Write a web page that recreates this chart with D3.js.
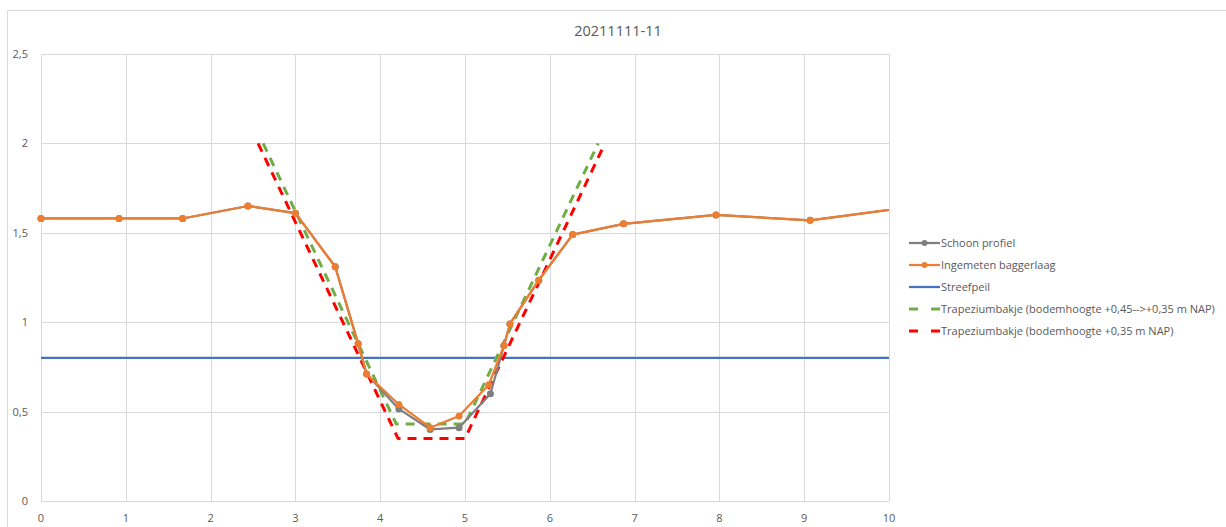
<!DOCTYPE html>
<html>
<head>
<meta charset="utf-8">
<script src="https://cdn.jsdelivr.net/npm/d3@7"></script>
<style>
  body { margin: 0; background: #fff; }
  svg { display: block; font-family: 'Open Sans', 'Noto Sans', sans-serif; }
  .grid line { stroke: #d9d9d9; stroke-width: 1; }
  .tick-label { fill: #595959; font-size: 11px; }
  .legend-label { fill: #595959; font-size: 11px; }
</style>
</head>
<body>
<div id="chart"></div>
<script>
// surveyed profile (Ingemeten baggerlaag)
const measuredX = [0, 0.92, 1.67, 2.44, 3.0, 3.47, 3.74, 3.84, 4.22, 4.59, 4.93, 5.28, 5.46, 5.53, 5.87, 6.27, 6.87, 7.96, 9.07, 10.6];
const measuredY = [1.58, 1.58, 1.58, 1.65, 1.61, 1.31, 0.88, 0.71, 0.54, 0.41, 0.475, 0.65, 0.87, 0.99, 1.235, 1.49, 1.55, 1.60, 1.57, 1.665];

// clean profile (Schoon profiel) - only differs in the bottom of the ditch
const cleanX = [0, 0.92, 1.67, 2.44, 3.0, 3.47, 3.74, 3.84, 4.22, 4.59, 4.93, 5.30, 5.46, 5.53, 5.87, 6.27, 6.87, 7.96, 9.07, 10.6];
const cleanY = [1.58, 1.58, 1.58, 1.65, 1.61, 1.31, 0.88, 0.71, 0.515, 0.40, 0.41, 0.60, 0.87, 0.99, 1.235, 1.49, 1.55, 1.60, 1.57, 1.665];

// target water level (Streefpeil)
const levelX = [0, 10];
const levelY = [0.8, 0.8];

// trapezium profiles
const trapGreenX = [2.62, 4.19, 5.0, 6.57];
const trapGreenY = [2.0, 0.43, 0.43, 2.0];
const trapRedX = [2.56, 4.21, 5.0, 6.65];
const trapRedY = [2.0, 0.35, 0.35, 2.0];

const xTicks = [0, 1, 2, 3, 4, 5, 6, 7, 8, 9, 10];
const yTicks = [0, 0.5, 1, 1.5, 2, 2.5];

const title = '20211111-11';
const legendNames = [
  'Schoon profiel',
  'Ingemeten baggerlaag',
  'Streefpeil',
  'Trapeziumbakje (bodemhoogte +0,45-->+0,35 m NAP)',
  'Trapeziumbakje (bodemhoogte +0,35 m NAP)'
];

const width = 1226, height = 527;
const plot = { left: 41, right: 889, top: 54, bottom: 501 };

const svg = d3.select('#chart').append('svg')
  .attr('width', width)
  .attr('height', height);

// chart border (only top and left edge visible in the crop)
svg.append('path')
  .attr('d', `M7.5,${height} V10.5 H${width}`)
  .attr('fill', 'none')
  .attr('stroke', '#d9d9d9');

const x = d3.scaleLinear().domain([0, 10]).range([plot.left, plot.right]);
const y = d3.scaleLinear().domain([0, 2.5]).range([plot.bottom, plot.top]);

// gridlines
const grid = svg.append('g').attr('class', 'grid');
grid.selectAll('.vline')
    .data(xTicks)
  .enter().append('line')
    .attr('x1', d => Math.round(x(d)) + 0.5)
    .attr('x2', d => Math.round(x(d)) + 0.5)
    .attr('y1', plot.top)
    .attr('y2', plot.bottom);
grid.selectAll('.hline')
    .data(yTicks)
  .enter().append('line')
    .attr('x1', plot.left)
    .attr('x2', plot.right)
    .attr('y1', d => Math.round(y(d)) + 0.5)
    .attr('y2', d => Math.round(y(d)) + 0.5);

// tick labels, Dutch decimal comma
const fmt = d => String(d).replace('.', ',');
svg.append('g').selectAll('text')
    .data(yTicks)
  .enter().append('text')
    .attr('class', 'tick-label')
    .attr('x', 28)
    .attr('y', d => y(d) + 4)
    .attr('text-anchor', 'end')
    .text(fmt);
svg.append('g').selectAll('text')
    .data(xTicks)
  .enter().append('text')
    .attr('class', 'tick-label')
    .attr('x', d => x(d))
    .attr('y', 522)
    .attr('text-anchor', 'middle')
    .text(fmt);

// title
svg.append('text')
  .attr('x', 618)
  .attr('y', 36)
  .attr('text-anchor', 'middle')
  .attr('fill', '#595959')
  .style('font-size', '14.5px')
  .text(title);

svg.append('clipPath').attr('id', 'plot-clip')
  .append('rect')
    .attr('x', plot.left - 5)
    .attr('y', plot.top - 5)
    .attr('width', plot.right - plot.left + 5)
    .attr('height', plot.bottom - plot.top + 10);

const chartGroup = svg.append('g').attr('clip-path', 'url(#plot-clip)');

const line = d3.line().x(d => x(d[0])).y(d => y(d[1]));
const zip = (xs, ys) => xs.map((v, i) => [v, ys[i]]);

const series = [
  { name: legendNames[0], data: zip(cleanX, cleanY), color: '#7f7f7f', dash: null, markers: true },
  { name: legendNames[1], data: zip(measuredX, measuredY), color: '#ed7d31', dash: null, markers: true },
  { name: legendNames[2], data: zip(levelX, levelY), color: '#4472c4', dash: null, markers: false },
  { name: legendNames[3], data: zip(trapGreenX, trapGreenY), color: '#70ad47', dash: '9,7', markers: false },
  { name: legendNames[4], data: zip(trapRedX, trapRedY), color: '#ff0000', dash: '9,7', markers: false }
];

// draw the trapezia first, then the profiles on top
const drawOrder = [2, 3, 4, 0, 1];
drawOrder.forEach(function(i) {
  const s = series[i];
  chartGroup.append('path')
    .datum(s.data)
    .attr('d', line)
    .attr('fill', 'none')
    .attr('stroke', s.color)
    .attr('stroke-width', s.dash ? 3 : 2.25)
    .attr('stroke-dasharray', s.dash)
    .attr('stroke-linejoin', 'round');
  if (s.markers) {
    chartGroup.selectAll(null)
        .data(s.data.filter(d => d[0] <= 10))
      .enter().append('circle')
        .attr('cx', d => x(d[0]))
        .attr('cy', d => y(d[1]))
        .attr('r', 3.5)
        .attr('fill', s.color);
  }
});

// legend
const legend = svg.append('g').attr('transform', 'translate(909, 243)');
const item = legend.selectAll('g')
    .data(series)
  .enter().append('g')
    .attr('transform', (d, i) => `translate(0, ${i * 22})`);
item.append('line')
  .attr('x1', 0).attr('x2', 31)
  .attr('y1', 0).attr('y2', 0)
  .attr('stroke', d => d.color)
  .attr('stroke-width', d => d.dash ? 3 : 2.25)
  .attr('stroke-dasharray', d => d.dash ? '9,13' : null);
item.filter(d => d.markers).append('circle')
  .attr('cx', 15.5).attr('cy', 0).attr('r', 3)
  .attr('fill', d => d.color);
item.append('text')
  .attr('class', 'legend-label')
  .attr('x', 32)
  .attr('y', 4)
  .text(d => d.name);
</script>
</body>
</html>
